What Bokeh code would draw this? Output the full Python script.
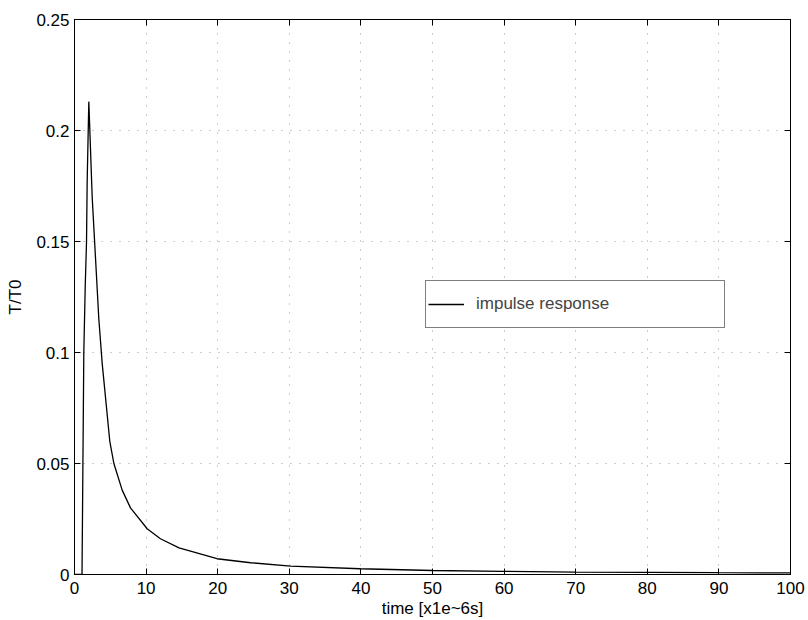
from bokeh.plotting import figure
from bokeh.models import LinearAxis, Range1d, Legend, LegendItem, FixedTicker
from bokeh.embed import file_html
from bokeh.resources import INLINE

# Data
time_us = [0, 1.05, 1.2, 1.3, 1.5, 1.68, 1.77, 2.0, 2.47, 3.4, 3.87, 4.93, 5.5, 6.66, 7.82,
           10.15, 12.0, 14.6, 19.9, 24.6, 30.2, 39.9, 50.0, 59.9, 70, 80, 90, 100]
t_over_t0 = [0, 0, 0.06, 0.10, 0.13, 0.15, 0.177, 0.213, 0.170, 0.115, 0.095, 0.060, 0.050,
             0.038, 0.030, 0.0206, 0.0161, 0.0120, 0.0071, 0.0053, 0.0038, 0.0026, 0.0018,
             0.0014, 0.0011, 0.0010, 0.0008, 0.0007]
x_ticks = [0, 10, 20, 30, 40, 50, 60, 70, 80, 90, 100]
y_ticks = [0, 0.05, 0.1, 0.15, 0.2, 0.25]
series_label = "impulse response"

FONT = "Liberation Sans"
FS = "17px"

p = figure(width=808, height=620, output_backend="svg", toolbar_location=None,
           x_range=Range1d(0, 100), y_range=Range1d(0, 0.25),
           min_border_left=74, min_border_right=18, min_border_top=19, min_border_bottom=46)
p.background_fill_color = "white"
p.border_fill_color = "white"
p.outline_line_color = "black"
p.outline_line_width = 1

r = p.line(time_us, t_over_t0, line_color="black", line_width=1.3)

for ax in (p.xaxis[0], p.yaxis[0]):
    ax.major_label_text_font = FONT
    ax.major_label_text_font_size = FS
    ax.major_label_text_color = "black"
    ax.axis_label_text_font = FONT
    ax.axis_label_text_font_size = FS
    ax.axis_label_text_font_style = "normal"
    ax.axis_label_text_color = "black"
    ax.major_tick_in = 6
    ax.major_tick_out = 0
    ax.minor_tick_line_color = None
    ax.axis_line_color = "black"
    ax.major_tick_line_color = "black"

p.xaxis[0].ticker = FixedTicker(ticks=x_ticks)
p.yaxis[0].ticker = FixedTicker(ticks=y_ticks)
p.yaxis[0].major_label_overrides = {0: "0", 0.05: "0.05", 0.1: "0.1", 0.15: "0.15", 0.2: "0.2", 0.25: "0.25"}
p.xaxis[0].axis_label = "time [x1e~6s]"
p.yaxis[0].axis_label = "T/T0"
p.xaxis[0].major_label_standoff = 7
p.xaxis[0].axis_label_standoff = 2
p.yaxis[0].major_label_standoff = 5
p.yaxis[0].axis_label_standoff = 8

# box ticks on top and right (no labels shown)
top = LinearAxis(ticker=FixedTicker(ticks=x_ticks), major_label_text_font_size="8px",
                 major_label_text_color=None, major_label_standoff=0,
                 major_tick_in=6, major_tick_out=0,
                 minor_tick_line_color=None, axis_line_color="black")
right = LinearAxis(ticker=FixedTicker(ticks=y_ticks), major_label_text_font_size="8px",
                   major_label_text_color=None, major_label_standoff=0,
                   major_tick_in=6, major_tick_out=0,
                   minor_tick_line_color=None, axis_line_color="black")
p.add_layout(top, "above")
p.add_layout(right, "right")

p.xgrid.ticker = FixedTicker(ticks=x_ticks)
p.ygrid.ticker = FixedTicker(ticks=y_ticks)
for g in (p.xgrid[0], p.ygrid[0]):
    g.grid_line_color = "#9a9a9a"
    g.grid_line_dash = "1 8"
    g.grid_line_width = 1

legend = Legend(items=[LegendItem(label=series_label, renderers=[r])],
                location=(351, 246), padding=2, margin=0, spacing=0,
                glyph_width=36, glyph_height=42, label_standoff=12,
                label_height=42, label_width=246,
                label_text_font=FONT, label_text_font_size=FS,
                border_line_color="black", border_line_width=1,
                background_fill_color="white", background_fill_alpha=1)
p.add_layout(legend, "center")

open("out.html", "w").write(file_html(p, INLINE))
